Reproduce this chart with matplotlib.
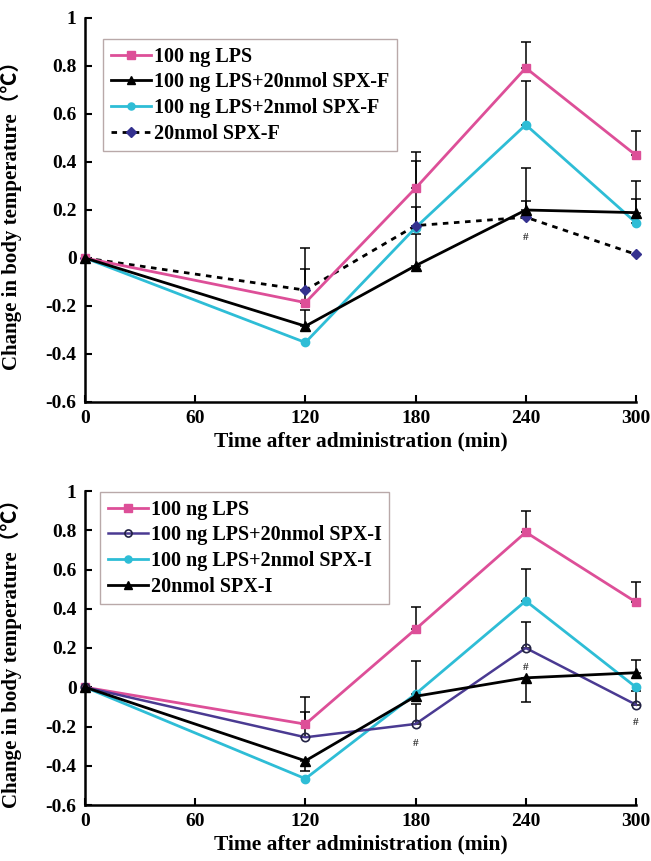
import matplotlib
matplotlib.use("Agg")
import matplotlib.pyplot as plt
import numpy as np
from matplotlib.ticker import FuncFormatter

# ---------------- data ----------------
time = [0, 120, 180, 240, 300]
xticks = [0, 60, 120, 180, 240, 300]
yticks = [-0.6, -0.4, -0.2, 0, 0.2, 0.4, 0.6, 0.8, 1]

# Panel A (SPX-F)
a_labels = ["100 ng LPS", "100 ng LPS+20nmol SPX-F", "100 ng LPS+2nmol SPX-F", "20nmol SPX-F"]
a_lps = [0, -0.186, 0.291, 0.792, 0.428]
a_lps_up = [0, 0.14, 0.15, 0.107, 0.10]
a_lps_lo = [0, 0, 0, 0, 0]
a_f20 = [0, -0.284, -0.032, 0.200, 0.189]
a_f20_up = [0, 0.067, 0.131, 0.174, 0.132]
a_f20_lo = [0, 0, 0, 0, 0]
a_f2 = [0, -0.352, 0.127, 0.555, 0.147]
a_f2_up = [0, 0, 0.279, 0.181, 0.099]
a_f2_lo = [0, 0, 0, 0, 0]
a_fonly = [0, -0.134, 0.135, 0.170, 0.015]
a_fonly_up = [0, 0.174, 0.079, 0.068, 0]
a_fonly_lo = [0, 0, 0, 0, 0]

# Panel B (SPX-I)
b_labels = ["100 ng LPS", "100 ng LPS+20nmol SPX-I", "100 ng LPS+2nmol SPX-I", "20nmol SPX-I"]
b_lps = [0, -0.188, 0.296, 0.790, 0.434]
b_lps_up = [0, 0.137, 0.115, 0.11, 0.10]
b_lps_lo = [0, 0, 0, 0, 0]
b_i20 = [0, -0.255, -0.187, 0.200, -0.089]
b_i20_up = [0, 0.127, 0.10, 0.134, 0.07]
b_i20_lo = [0, 0, 0, 0, 0]
b_i2 = [0, -0.466, -0.034, 0.440, 0.0]
b_i2_up = [0, 0, 0.168, 0.165, 0]
b_i2_lo = [0, 0, 0, 0, 0]
b_ionly = [0, -0.375, -0.046, 0.048, 0.074]
b_ionly_up = [0, 0, 0, 0, 0.066]
b_ionly_lo = [0, 0.05, 0, 0.123, 0]

# ---------------- style ----------------
PINK = "#DD4F98"
CYAN = "#2EBDD6"
NAVY = "#34318F"
PURPLE = "#4A3A92"
BLACK = "#000000"

SERIF = ["Liberation Serif", "Noto Sans CJK SC", "DejaVu Serif"]
plt.rcParams["font.family"] = SERIF
plt.rcParams["font.weight"] = "bold"

fig = plt.figure(figsize=(6.51, 8.61), dpi=100)
W, H = 651, 861


def px_axes(left, top, right, bottom):
    return fig.add_axes([left / W, 1 - bottom / H, (right - left) / W, (bottom - top) / H])


def errbars(ax, y, up, lo):
    x = np.array(time, float)
    y = np.array(y, float)
    up = np.array(up, float)
    lo = np.array(lo, float)
    m = up > 0
    if m.any():
        ax.errorbar(x[m], y[m], yerr=[np.zeros(m.sum()), up[m]], fmt="none",
                    ecolor="black", elinewidth=1.1, capsize=3.5, capthick=1.1,
                    zorder=2, clip_on=False)
    m = lo > 0
    if m.any():
        ax.errorbar(x[m], y[m], yerr=[lo[m], np.zeros(m.sum())], fmt="none",
                    ecolor="black", elinewidth=1.1, capsize=3.5, capthick=1.1,
                    zorder=2, clip_on=False)


def style_axes(ax):
    ax.set_xlim(0, 300)
    ax.set_ylim(-0.6, 1)
    ax.set_xticks(xticks)
    ax.set_yticks(yticks)
    ax.yaxis.set_major_formatter(FuncFormatter(lambda v, p: ("%g" % round(v, 1)).replace("\u2212", "-")))
    for s in ["top", "right"]:
        ax.spines[s].set_visible(False)
    for s in ["left", "bottom"]:
        ax.spines[s].set_linewidth(1.8)
    ax.tick_params(axis="both", direction="in", length=5, width=1.5, labelsize=14, pad=6)
    for lab in ax.get_xticklabels() + ax.get_yticklabels():
        lab.set_fontweight("bold")
    ax.set_xlabel("Time after administration (min)", fontsize=15.5, fontweight="bold", labelpad=3)
    ax.set_ylabel("Change in body temperature\uff08\u2103\uff09", fontsize=15,
                  fontweight="bold", labelpad=4, family=SERIF)
    ax.patch.set_alpha(0)


def legend(ax, handles, labels, anchor):
    leg = ax.legend(handles, labels, loc="upper left", bbox_to_anchor=anchor,
                    bbox_transform=fig.transFigure, borderaxespad=0,
                    fancybox=False, frameon=True, handlelength=2.0, handletextpad=0.15,
                    labelspacing=0.28, borderpad=0.38, markerscale=0.85,
                    prop={"family": SERIF, "weight": "bold", "size": 14.5})
    leg.get_frame().set_edgecolor("#A89494")
    leg.get_frame().set_linewidth(1.0)
    return leg


# ---------------- Panel A ----------------
ax1 = px_axes(85, 18, 636, 402)
errbars(ax1, a_lps, a_lps_up, a_lps_lo)
errbars(ax1, a_f20, a_f20_up, a_f20_lo)
errbars(ax1, a_f2, a_f2_up, a_f2_lo)
errbars(ax1, a_fonly, a_fonly_up, a_fonly_lo)
h1, = ax1.plot(time, a_lps, color=PINK, marker="s", ms=6, lw=2, clip_on=False, zorder=4)
h2, = ax1.plot(time, a_f20, color=BLACK, marker="^", ms=6.5, lw=2, clip_on=False, zorder=4)
h3, = ax1.plot(time, a_f2, color=CYAN, marker="o", ms=6, lw=2, clip_on=False, zorder=3)
h4, = ax1.plot(time, a_fonly, color=BLACK, ls=(0, (2.0, 2.0)), lw=2, marker="D", ms=5.5,
               mfc=NAVY, mec=NAVY, clip_on=False, zorder=3)
ax1.text(240, a_fonly[3] - 0.085, "#", ha="center", va="center", fontsize=8, color="#333333")
style_axes(ax1)
ax1.yaxis.set_label_coords(-0.115, 0.5)
legend(ax1, [h1, h2, h3, h4], a_labels, (103 / W, 1 - 39 / H))

# ---------------- Panel B ----------------
ax2 = px_axes(85, 491, 636, 805)
errbars(ax2, b_lps, b_lps_up, b_lps_lo)
errbars(ax2, b_i20, b_i20_up, b_i20_lo)
errbars(ax2, b_i2, b_i2_up, b_i2_lo)
errbars(ax2, b_ionly, b_ionly_up, b_ionly_lo)
g1, = ax2.plot(time, b_lps, color=PINK, marker="s", ms=6, lw=2, clip_on=False, zorder=4)
g2, = ax2.plot(time, b_i20, color=PURPLE, marker="o", ms=6, lw=1.8, mfc="none", mec="#222244",
               mew=1.2, clip_on=False, zorder=4)
g3, = ax2.plot(time, b_i2, color=CYAN, marker="o", ms=6, lw=2, clip_on=False, zorder=3)
g4, = ax2.plot(time, b_ionly, color=BLACK, marker="^", ms=6.5, lw=2, clip_on=False, zorder=5)
ax2.text(180, b_i20[2] - 0.1, "#", ha="center", va="center", fontsize=8, color="#333333")
ax2.text(240, b_i20[3] - 0.1, "#", ha="center", va="center", fontsize=8, color="#333333")
ax2.text(300, b_i20[4] - 0.09, "#", ha="center", va="center", fontsize=8, color="#333333")
style_axes(ax2)
ax2.yaxis.set_label_coords(-0.115, 0.5)
legend(ax2, [g1, g2, g3, g4], b_labels, (100 / W, 1 - 492 / H))

fig.savefig("out.png", dpi=100)
